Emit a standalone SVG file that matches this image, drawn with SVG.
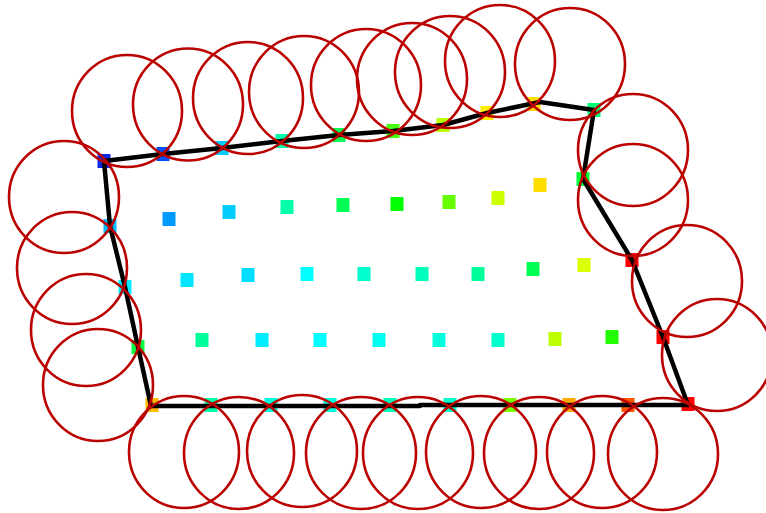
<svg xmlns="http://www.w3.org/2000/svg" width="766" height="513" viewBox="0 0 766 513">
<style>
.s{stroke:none}
.c{fill:none;stroke:#bb0000;stroke-width:2.6}
.b{fill:none;stroke:#000;stroke-width:4.5;stroke-linejoin:round}
</style>
<rect width="766" height="513" fill="#fff"/>
<g id="markers">
<!-- boundary -->
<rect x="97.5" y="154" width="13" height="14" fill="#0a28e8"/>
<rect x="156.5" y="147" width="13" height="14" fill="#0050ff"/>
<rect x="215.5" y="141" width="13" height="14" fill="#00ccff"/>
<rect x="275.5" y="134" width="13" height="14" fill="#00ffaa"/>
<rect x="332.5" y="128" width="13" height="14" fill="#00ff55"/>
<rect x="386.5" y="124" width="13" height="14" fill="#44ff11"/>
<rect x="436.5" y="118" width="13" height="14" fill="#bbff00"/>
<rect x="480.5" y="106" width="13" height="14" fill="#ffee00"/>
<rect x="527.5" y="97" width="13" height="14" fill="#ffdd00"/>
<rect x="587.5" y="103" width="13" height="14" fill="#00ff77"/>
<rect x="576.5" y="172" width="13" height="14" fill="#00ff33"/>
<rect x="625.5" y="253" width="13" height="14" fill="#ff0000"/>
<rect x="656.5" y="330" width="13" height="14" fill="#ff0000"/>
<rect x="681.5" y="397" width="13" height="14" fill="#ff0000"/>
<rect x="145.5" y="398" width="13" height="14" fill="#ffbb00"/>
<rect x="204.5" y="398" width="13" height="14" fill="#00ffaa"/>
<rect x="264.5" y="398" width="13" height="14" fill="#00ffdd"/>
<rect x="323.5" y="398" width="13" height="14" fill="#00ffdd"/>
<rect x="383.5" y="398" width="13" height="14" fill="#00ffbb"/>
<rect x="443.5" y="398" width="13" height="14" fill="#00ffcc"/>
<rect x="503.5" y="398" width="13" height="14" fill="#77ff00"/>
<rect x="562.5" y="398" width="13" height="14" fill="#ffaa00"/>
<rect x="621.5" y="398" width="13" height="14" fill="#ff5500"/>
<rect x="103.5" y="219" width="13" height="14" fill="#00bbff"/>
<rect x="118.5" y="280" width="13" height="14" fill="#00eeff"/>
<rect x="131.5" y="340" width="13" height="14" fill="#00ff44"/>
<!-- interior -->
<rect x="162.5" y="212" width="13" height="14" fill="#0099ff"/>
<rect x="222.5" y="205" width="13" height="14" fill="#00ccff"/>
<rect x="280.5" y="200" width="13" height="14" fill="#00ffaa"/>
<rect x="336.5" y="198" width="13" height="14" fill="#00ff55"/>
<rect x="390.5" y="197" width="13" height="14" fill="#00ff00"/>
<rect x="442.5" y="195" width="13" height="14" fill="#66ff00"/>
<rect x="491.5" y="191" width="13" height="14" fill="#ccff00"/>
<rect x="533.5" y="178" width="13" height="14" fill="#ffdd00"/>
<rect x="180.5" y="273" width="13" height="14" fill="#00e5ff"/>
<rect x="241.5" y="268" width="13" height="14" fill="#00ddff"/>
<rect x="300.5" y="267" width="13" height="14" fill="#00ffff"/>
<rect x="357.5" y="267" width="13" height="14" fill="#00ffcc"/>
<rect x="415.5" y="267" width="13" height="14" fill="#00ffbb"/>
<rect x="471.5" y="267" width="13" height="14" fill="#00ff99"/>
<rect x="526.5" y="262" width="13" height="14" fill="#00ff55"/>
<rect x="577.5" y="258" width="13" height="14" fill="#ddff00"/>
<rect x="195.5" y="333" width="13" height="14" fill="#00ff99"/>
<rect x="255.5" y="333" width="13" height="14" fill="#00eeff"/>
<rect x="313.5" y="333" width="13" height="14" fill="#00ffff"/>
<rect x="372.5" y="333" width="13" height="14" fill="#00ffee"/>
<rect x="432.5" y="333" width="13" height="14" fill="#00ffdd"/>
<rect x="491.5" y="333" width="13" height="14" fill="#00ffcc"/>
<rect x="548.5" y="332" width="13" height="14" fill="#bbff00"/>
<rect x="605.5" y="330" width="13" height="14" fill="#22ff00"/>
</g>
<g id="connectors">
<polyline class="b" points="104,161 163,154 222,148 282,141 339,135 393,131 443,125 487,113 540,102 594,110 583,179 632,260 663,337 688,405 420,405 420,406 151,406 138,347 125,287 110,226 104,161"/>
</g>
<g id="circles">
<ellipse class="c" cx="127" cy="111" rx="55" ry="56"/>
<ellipse class="c" cx="188" cy="104.5" rx="55" ry="56"/>
<ellipse class="c" cx="248" cy="98" rx="55" ry="56"/>
<ellipse class="c" cx="304" cy="92" rx="55" ry="56"/>
<ellipse class="c" cx="366" cy="85" rx="55" ry="56"/>
<ellipse class="c" cx="412" cy="79" rx="55" ry="56"/>
<ellipse class="c" cx="450" cy="72" rx="55" ry="56"/>
<ellipse class="c" cx="500" cy="61" rx="55" ry="56"/>
<ellipse class="c" cx="570" cy="64" rx="55" ry="56"/>
<ellipse class="c" cx="633" cy="150" rx="55" ry="56"/>
<ellipse class="c" cx="633" cy="200" rx="55" ry="56"/>
<ellipse class="c" cx="687" cy="281" rx="55" ry="56"/>
<ellipse class="c" cx="717" cy="355" rx="55" ry="56"/>
<ellipse class="c" cx="64" cy="197" rx="55" ry="56"/>
<ellipse class="c" cx="72" cy="268" rx="55" ry="56"/>
<ellipse class="c" cx="86" cy="330" rx="55" ry="56"/>
<ellipse class="c" cx="98" cy="385" rx="55" ry="56"/>
<ellipse class="c" cx="184" cy="452" rx="55" ry="56"/>
<ellipse class="c" cx="239" cy="453" rx="55" ry="56"/>
<ellipse class="c" cx="302" cy="451" rx="55" ry="56"/>
<ellipse class="c" cx="361" cy="453" rx="55" ry="56"/>
<ellipse class="c" cx="418" cy="453" rx="55" ry="56"/>
<ellipse class="c" cx="481" cy="452" rx="55" ry="56"/>
<ellipse class="c" cx="539" cy="453" rx="55" ry="56"/>
<ellipse class="c" cx="602" cy="452" rx="55" ry="56"/>
<ellipse class="c" cx="663" cy="454" rx="55" ry="56"/>
</g>
</svg>
